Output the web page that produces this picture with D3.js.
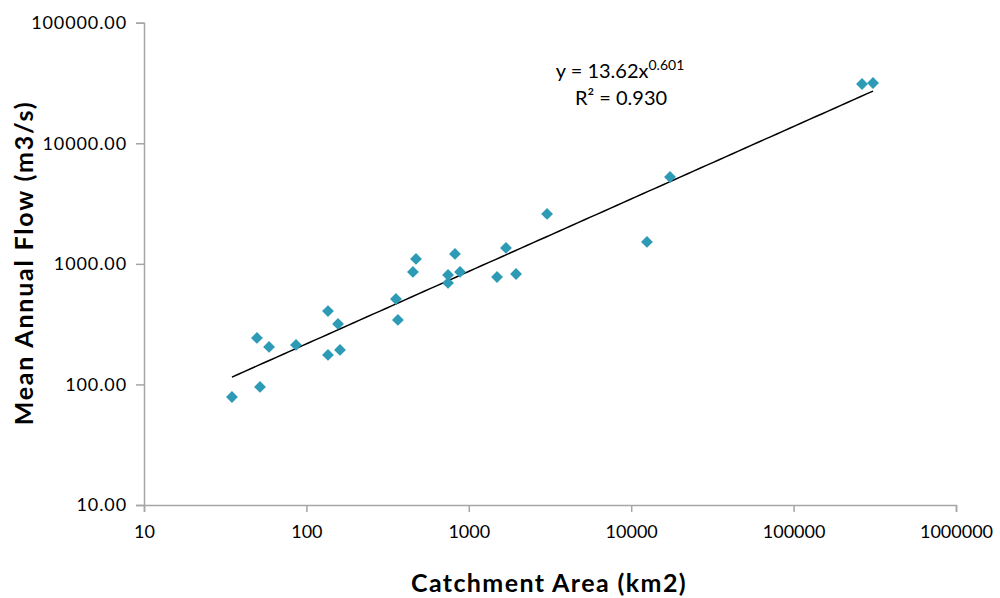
<!DOCTYPE html>
<html>
<head>
<meta charset="utf-8">
<script src="https://cdn.jsdelivr.net/npm/d3@7"></script>
<style>
  body { margin: 0; background: #fff; }
  text { font-family: "Lato", "Open Sans", sans-serif; }
</style>
</head>
<body>
<svg id="chart"></svg>
<script>
// catchment area (km2) and mean annual flow (m3/s)
const area = [34.8, 49.6, 51.8, 58.9, 86.3, 135.8, 135.8, 156.6, 161, 356,
  366, 453, 473, 745, 745, 822, 883, 1492, 1694, 1954,
  3033, 12506, 17338, 263800, 308300];
const flow = [78.7, 243, 95.3, 204.6, 212.8, 406, 175.6, 317.5, 193.2, 511,
  342.8, 857, 1099, 809, 695, 1208, 857, 778, 1355, 824,
  2594, 1520, 5255, 31000, 31600];
const xTicks = [10, 100, 1000, 10000, 100000, 1000000];
const yTicks = [10, 100, 1000, 10000, 100000];
const fitA = 13.62, fitB = 0.601;

const width = 1000, height = 598;
const svg = d3.select("#chart").attr("width", width).attr("height", height);

const x = d3.scaleLog().domain([10, 1000000]).range([144, 956]);
const y = d3.scaleLog().domain([10, 100000]).range([505, 22.7]);

const axisColor = "#a6a6a6";

// x axis
const gx = svg.append("g")
  .attr("transform", `translate(0,${y(10)})`)
  .call(d3.axisBottom(x).tickValues(xTicks).tickFormat(d3.format("d")).tickSize(7).tickPadding(13));
gx.select(".domain").attr("stroke", axisColor).attr("stroke-width", 1.5);
gx.selectAll(".tick line").attr("stroke", axisColor).attr("stroke-width", 1.5);
gx.selectAll(".tick text").attr("fill", "#000").style("font-size", "18px");

// y axis
const gy = svg.append("g")
  .attr("transform", `translate(${x(10)},0)`)
  .call(d3.axisLeft(y).tickValues(yTicks).tickFormat(d3.format(".2f")).tickSize(8).tickPadding(9));
gy.select(".domain").attr("stroke", axisColor).attr("stroke-width", 1.5);
gy.selectAll(".tick line").attr("stroke", axisColor).attr("stroke-width", 1.5);
gy.selectAll(".tick text").attr("fill", "#000").style("font-size", "18px").style("letter-spacing", "0.9px");

// power trendline
const xs = [d3.min(area), d3.max(area)];
const line = d3.line().x(d => x(d)).y(d => y(fitA * Math.pow(d, fitB)));
svg.append("path")
  .attr("d", line(d3.range(0, 101).map(i => xs[0] * Math.pow(xs[1] / xs[0], i / 100))))
  .attr("fill", "none")
  .attr("stroke", "#000")
  .attr("stroke-width", 1.5);

// diamonds
const diamond = d3.symbol().type(d3.symbolSquare).size(70);
svg.append("g").selectAll("path")
  .data(area.map((a, i) => [a, flow[i]]))
  .join("path")
  .attr("d", diamond)
  .attr("transform", d => `translate(${x(d[0])},${y(d[1])}) rotate(45)`)
  .attr("fill", "#2d9ab6");

// equation
const eq = svg.append("text")
  .attr("x", 620).attr("y", 78)
  .attr("text-anchor", "middle")
  .style("font-size", "20px");
eq.append("tspan").text("y = 13.62x");
eq.append("tspan").attr("dy", -8).style("font-size", "14px").text("0.601");
svg.append("text")
  .attr("x", 621).attr("y", 105)
  .attr("text-anchor", "middle")
  .style("font-size", "20px")
  .text("R² = 0.930");

// axis titles
svg.append("text")
  .attr("x", 549).attr("y", 592)
  .attr("text-anchor", "middle")
  .style("font-size", "25px").style("font-weight", "bold").style("letter-spacing", "1.4px")
  .text("Catchment Area (km2)");
svg.append("text")
  .attr("transform", "translate(33,263) rotate(-90)")
  .attr("text-anchor", "middle")
  .style("font-size", "25px").style("font-weight", "bold").style("letter-spacing", "1.8px")
  .text("Mean Annual Flow (m3/s)");
</script>
</body>
</html>
